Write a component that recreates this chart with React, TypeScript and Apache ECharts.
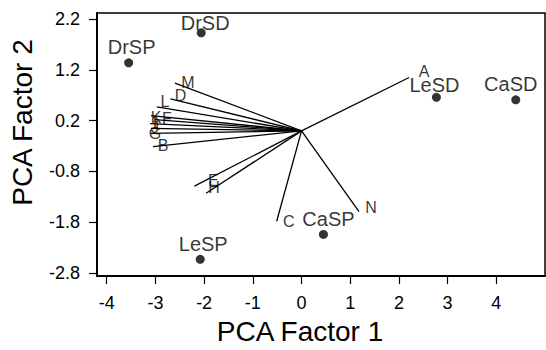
import React, { useEffect, useRef } from "react";
import * as echarts from "echarts";

// Sample scores (points)
const scoreNames = ["DrSD", "DrSP", "LeSD", "CaSD", "CaSP", "LeSP"];
const scoreX = [-2.06, -3.55, 2.77, 4.4, 0.45, -2.08];
const scoreY = [1.93, 1.34, 0.66, 0.61, -2.04, -2.53];

// Variable loadings (vectors from origin)
const loadingNames = ["A", "B", "C", "D", "E", "F", "G", "H", "I", "J", "K", "L", "M", "N"];
const loadingX = [2.21, -3.05, -0.51, -2.69, -2.2, -3.01, -3.09, -1.96, -3.11, -3.09, -3.09, -2.97, -2.6, 1.18];
const loadingY = [1.05, -0.31, -1.78, 0.63, -1.09, 0.22, -0.05, -1.23, 0.14, 0.05, 0.3, 0.47, 0.94, -1.59];

// Tick labels
const xTicks = [-4, -3, -2, -1, 0, 1, 2, 3, 4];
const yTicks = [-2.8, -1.8, -0.8, 0.2, 1.2, 2.2];

// Label placement (style only)
const scoreLabelOffsets: number[][] = [[4, 6.5], [3, 0.5], [-2, 4.5], [-5, 0.5], [5, 1.5], [3, 1.5]];
const loadingLabelOffsets: number[][] = [
  [15, -6], [10, -1], [12, 0], [10, -3], [19, -6], [12, -1], [4, 0],
  [8, -6], [5, 0], [4, -1], [5, 2], [8, -5], [13, -1], [12, -4],
];

const FONT = "'Liberation Sans', Arial, Helvetica, sans-serif";

export default function App() {
  const ref = useRef<HTMLDivElement>(null);
  useEffect(() => {
    if (!ref.current) return;
    const chart = echarts.init(ref.current, undefined, { renderer: "svg" });
    const scoreData = scoreNames.map((n, i) => ({
      name: n,
      value: [scoreX[i], scoreY[i]],
      label: { offset: scoreLabelOffsets[i] },
    }));
    const lineData = loadingNames.map((n, i) => ({
      name: n,
      coords: [[0, 0], [loadingX[i], loadingY[i]]],
    }));
    const loadLabelData = loadingNames.map((n, i) => ({
      name: n,
      value: [loadingX[i], loadingY[i]],
      label: { offset: loadingLabelOffsets[i] },
    }));
    chart.setOption({
      animation: false,
      backgroundColor: "#fff",
      textStyle: { fontFamily: FONT },
      grid: {
        left: 91,
        right: 1,
        top: 13,
        bottom: 65,
        show: true,
        borderColor: "#000",
        borderWidth: 1.5,
        backgroundColor: "transparent",
      },
      xAxis: {
        type: "value",
        min: -4.2,
        max: 5.0,
        name: "PCA Factor 1",
        nameLocation: "middle",
        nameGap: 36,
        nameTextStyle: { fontSize: 28, color: "#000", fontFamily: FONT, padding: [0, 42, 0, 0] },
        axisLine: { show: true, onZero: false, lineStyle: { color: "#000", width: 2 } },
        axisTick: { show: true, inside: false, length: 8, customValues: xTicks, lineStyle: { color: "#000", width: 1.2 } },
        axisLabel: { show: true, customValues: xTicks, fontSize: 18, color: "#000", margin: 18, fontFamily: FONT },
        splitLine: { show: false },
      },
      yAxis: {
        type: "value",
        min: -2.86,
        max: 2.32,
        name: "PCA Factor 2",
        nameLocation: "middle",
        nameGap: 61,
        nameTextStyle: { fontSize: 28, color: "#000", fontFamily: FONT, padding: [0, 0, 0, 44] },
        axisLine: { show: true, onZero: false, lineStyle: { color: "#000", width: 2 } },
        axisTick: { show: true, inside: false, length: 8, customValues: yTicks, lineStyle: { color: "#000", width: 1.2 } },
        axisLabel: {
          show: true,
          customValues: yTicks,
          fontSize: 18,
          color: "#000",
          margin: 17,
          fontFamily: FONT,
          formatter: (v: number) => v.toFixed(1),
        },
        splitLine: { show: false },
      },
      series: [
        {
          type: "lines",
          coordinateSystem: "cartesian2d",
          polyline: false,
          silent: true,
          symbol: "none",
          lineStyle: { color: "#000", width: 1.3, opacity: 1 },
          data: lineData,
        },
        {
          type: "scatter",
          symbolSize: 0,
          silent: true,
          label: {
            show: true,
            position: "inside",
            formatter: "{b}",
            fontSize: 16,
            color: "#000",
            fontFamily: FONT,
          },
          data: loadLabelData,
        },
        {
          type: "scatter",
          symbolSize: 9,
          itemStyle: { color: "#000" },
          label: {
            show: true,
            position: "top",
            distance: 2,
            formatter: "{b}",
            fontSize: 20,
            color: "#000",
            fontFamily: FONT,
          },
          data: scoreData,
        },
      ],
    });
    return () => chart.dispose();
  }, []);
  return (
    <div
      ref={ref}
      style={{ position: "absolute", left: 0, top: 0, width: 546, height: 350 }}
    />
  );
}
